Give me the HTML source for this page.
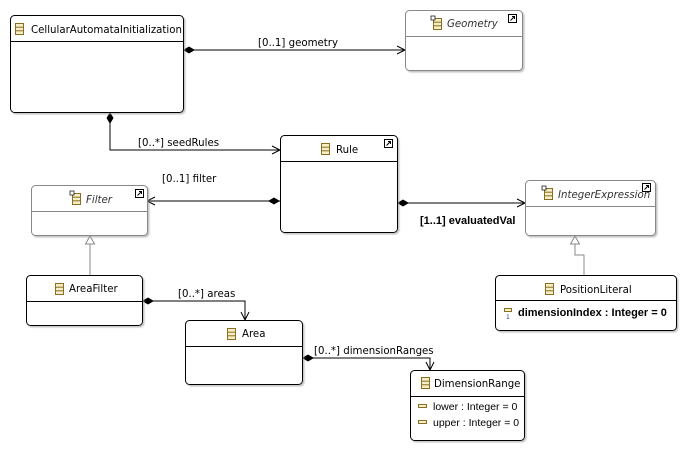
<!DOCTYPE html>
<html><head><style>
html,body{margin:0;padding:0;background:#fff;}
svg{display:block;}
text{font-family:"DejaVu Sans","Liberation Sans",sans-serif;font-size:10.2px;fill:#000;}
.it{font-style:italic;fill:#333;}
.b{font-family:"Liberation Sans",sans-serif;font-weight:bold;font-size:11px;}
.a{font-family:"Liberation Sans",sans-serif;font-size:10.5px;}
</style></head><body>
<svg width="692" height="453" viewBox="0 0 692 453" xmlns="http://www.w3.org/2000/svg">
<defs>
<g id="ic"><rect x="0" y="0" width="8" height="11" fill="#f5efc8" stroke="#8a6d1e" stroke-width="1"/><line x1="0" y1="3.7" x2="8" y2="3.7" stroke="#8a6d1e"/><line x1="0" y1="7.3" x2="8" y2="7.3" stroke="#8a6d1e"/></g>
<g id="lk"><rect x="0" y="0" width="8" height="8" fill="#fff" stroke="#000"/><path d="M2 6 L6 2 M3.5 2 H6 V4.5" stroke="#000" fill="none"/></g>
<filter id="sh" x="-5%" y="-5%" width="115%" height="115%"><feDropShadow dx="1.5" dy="1.5" stdDeviation="0.8" flood-color="#999" flood-opacity="0.6"/></filter>
</defs>

<g stroke="#000" fill="none" stroke-width="1">
<line x1="183" y1="50" x2="405" y2="50"/>
<polyline points="110,112 110,150 280,150"/>
<line x1="147" y1="201" x2="280" y2="201"/>
<line x1="397" y1="203" x2="525" y2="203"/>
<polyline points="142,301 245,301 245,320"/>
<polyline points="302,358 430,358 430,370"/>
<polyline points="397,46 405,50 397,54"/>
<polyline points="272,146 280,150 272,154"/>
<polyline points="155,197 147,201 155,205"/>
<polyline points="517,199 525,203 517,207"/>
<polyline points="241,312 245,320 249,312"/>
<polyline points="426,362 430,370 434,362"/>
</g>
<g fill="#000">
<polygon points="183,50 189,46.5 195,50 189,53.5"/>
<polygon points="110,112 113.5,118 110,124 106.5,118"/>
<polygon points="280,201 274,197.5 268,201 274,204.5"/>
<polygon points="397,203 403,199.5 409,203 403,206.5"/>
<polygon points="142,301 148,297.5 154,301 148,304.5"/>
<polygon points="302,358 308,354.5 314,358 308,361.5"/>
</g>
<g stroke="#888" fill="none">
<line x1="90" y1="275" x2="90" y2="244"/>
<polygon points="90,236 85.5,244 94.5,244" fill="#fff"/>
<polyline points="584,275 584,255 575,255 575,244"/>
<polygon points="575,236 570.5,244 579.5,244" fill="#fff"/>
</g>
<text x="258" y="46">[0..1] geometry</text>
<text x="138" y="146">[0..*] seedRules</text>
<text x="162" y="182">[0..1] filter</text>
<text x="420" y="224" class="b">[1..1] evaluatedVal</text>
<text x="178" y="297">[0..*] areas</text>
<text x="314" y="354">[0..*] dimensionRanges</text>

<g filter="url(#sh)" fill="#fff" stroke-width="1">
<rect x="10.5" y="15.5" width="173" height="97" rx="4" stroke="#000"/>
<rect x="405.5" y="10.5" width="117" height="60" rx="4" stroke="#888"/>
<rect x="280.5" y="135.5" width="117" height="97" rx="4" stroke="#000"/>
<rect x="31.5" y="185.5" width="116" height="50" rx="4" stroke="#888"/>
<rect x="525.5" y="180.5" width="130" height="55" rx="4" stroke="#888"/>
<rect x="26.5" y="275.5" width="116" height="50" rx="4" stroke="#000"/>
<rect x="185.5" y="320.5" width="117" height="64" rx="4" stroke="#000"/>
<rect x="495.5" y="275.5" width="181" height="55" rx="4" stroke="#000"/>
<rect x="410.5" y="370.5" width="114" height="70" rx="4" stroke="#000"/>
</g>
<g stroke="#000">
<line x1="11" y1="41.5" x2="183" y2="41.5"/>
<line x1="406" y1="36.5" x2="522" y2="36.5" stroke="#888"/>
<line x1="281" y1="161.5" x2="397" y2="161.5"/>
<line x1="32" y1="211.5" x2="147" y2="211.5" stroke="#888"/>
<line x1="526" y1="206.5" x2="655" y2="206.5" stroke="#888"/>
<line x1="27" y1="301.5" x2="142" y2="301.5"/>
<line x1="186" y1="346.5" x2="302" y2="346.5"/>
<line x1="496" y1="300.5" x2="676" y2="300.5"/>
<line x1="411" y1="396.5" x2="524" y2="396.5"/>
</g>
<use href="#ic" x="15.5" y="23.5"/><text x="31" y="33">CellularAutomataInitialization</text>
<use href="#ic" x="433.5" y="18.5"/><text x="447" y="27" class="it">Geometry</text><use href="#lk" x="508.5" y="14.5"/>
<rect x="431" y="16" width="4" height="4" fill="#fff" stroke="#000" stroke-width="0.7"/>
<use href="#ic" x="321.5" y="143.5"/><text x="336" y="153">Rule</text><use href="#lk" x="384.5" y="139.5"/>
<use href="#ic" x="72.5" y="193.5"/><text x="86" y="203" class="it">Filter</text><use href="#lk" x="135.5" y="189.5"/>
<rect x="70" y="191" width="4" height="4" fill="#fff" stroke="#000" stroke-width="0.7"/>
<use href="#ic" x="544.5" y="188.5"/><text x="558" y="198" class="it">IntegerExpression</text><use href="#lk" x="642.5" y="183.5"/>
<rect x="542" y="186" width="4" height="4" fill="#fff" stroke="#000" stroke-width="0.7"/>
<use href="#ic" x="55.5" y="283.5"/><text x="69" y="292">AreaFilter</text>
<use href="#ic" x="227.5" y="328.5"/><text x="242" y="337">Area</text>
<use href="#ic" x="545.5" y="283.5"/><text x="560" y="293">PositionLiteral</text>
<use href="#ic" x="421.5" y="377.5"/><text x="434" y="387">DimensionRange</text>
<rect x="504.5" y="308.5" width="7" height="3" fill="#f5efc8" stroke="#8a6d1e"/><text x="506" y="319" style="font-size:6px;fill:#1a3d8f">1</text>
<text x="518" y="316" class="b">dimensionIndex : Integer = 0</text>
<rect x="418.5" y="404.5" width="8" height="3" fill="#f5efc8" stroke="#8a6d1e"/><text x="433" y="410" class="a">lower : Integer = 0</text>
<rect x="418.5" y="420.5" width="8" height="3" fill="#f5efc8" stroke="#8a6d1e"/><text x="433" y="426" class="a">upper : Integer = 0</text>
</svg>
</body></html>
